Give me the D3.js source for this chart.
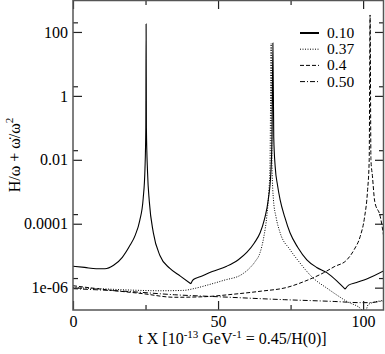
<!DOCTYPE html>
<html>
<head>
<meta charset="utf-8">
<script src="https://cdn.jsdelivr.net/npm/d3@7"></script>
<style>
  body { margin: 0; background: #fff; }
  text { font-family: "Liberation Serif", "DejaVu Serif", serif; }
</style>
</head>
<body>
<div id="chart"></div>
<script>
// series: [t, value]
const series010 = [[0, 4.7e-6], [4, 4.3e-6], [8, 3.9e-6], [11, 3.9e-6], [14, 5.0e-6], [17, 8.9e-6],
    [19.5, 2.0e-5], [21.5, 4.5e-5], [23, 1.26e-4], [24.2, 6.3e-4], [24.8, 5.0e-3], [25.1, 0.1],
    [25.2, 178], [25.3, 0.1], [25.7, 4.0e-3], [26.3, 5.0e-4], [27.7, 5.2e-5], [30, 1.0e-5],
    [33.4, 4.0e-6], [37, 2.3e-6], [40.6, 1.33e-6], [41.5, 1.8e-6], [43.8, 2.2e-6], [48, 3.2e-6],
    [53, 4.7e-6], [57, 7.5e-6], [59.9, 1.26e-5], [62.5, 2.5e-5], [64.5, 5.2e-5], [66, 1.4e-4],
    [67.3, 5.6e-4], [68.2, 4.0e-3], [68.6, 0.05], [68.9, 45], [69.2, 0.05], [69.7, 6.0e-3],
    [70.5, 1.6e-3], [71.4, 5.6e-4], [73, 1.6e-4], [74.8, 5.2e-5], [77.5, 1.8e-5], [80.6, 7.4e-6],
    [84, 4.3e-6], [87.5, 2.95e-6], [91, 1.6e-6], [93.8, 9.0e-7], [95, 1.2e-6], [97.8, 1.45e-6],
    [102, 2.0e-6], [107.2, 3.4e-6]];
const series037 = [[0, 1.0e-6], [10, 9.2e-7], [20, 8.4e-7], [30, 8.0e-7], [38, 8.2e-7], [42, 9.5e-7],
    [46.7, 1.23e-6], [52, 1.7e-6], [58.2, 2.6e-6], [61, 4.2e-6], [62.8, 6.6e-6], [64.5, 1.26e-5],
    [65.8, 4.0e-5], [66.8, 1.7e-4], [67.5, 1.0e-3], [67.9, 6.0e-3], [68.3, 45], [68.6, 6.0e-3],
    [69.1, 5.6e-4], [70, 1.6e-4], [71.4, 5.2e-5], [74.8, 1.55e-5], [78, 6.3e-6], [82.3, 2.2e-6],
    [88, 9.0e-7], [94.4, 3.7e-7], [99.6, 2.0e-7], [100.3, 1.2e-7], [101.8, 3.0e-7], [107.2, 4.0e-7]];
const series04 = [[0, 1.15e-6], [12, 8.5e-7], [24, 6.5e-7], [35, 5.0e-7], [45, 5.2e-7], [55, 6.2e-7],
    [65, 7.8e-7], [73.4, 1.0e-6], [80, 1.6e-6], [86.3, 2.9e-6], [90, 4.5e-6], [94.4, 7.4e-6],
    [97, 1.6e-5], [99, 4.0e-5], [100.5, 1.6e-4], [101.5, 1.0e-3], [102.1, 1.0e-2], [102.4, 340],
    [102.7, 1.0e-2], [103.2, 3.2e-3], [104, 5.0e-4], [105.9, 1.7e-4], [107.2, 3.5e-5]];
const series050 = [[0, 9.3e-7], [20, 7.5e-7], [35, 6.0e-7], [50, 5.2e-7], [73, 4.2e-7], [90, 3.7e-7],
    [99, 3.4e-7], [101.8, 3.4e-7], [107.2, 3.9e-7]];

// sharp minima (cusps) of the 0.10 curve
const cusps010 = [40.6, 93.8];

const legendLabels = ["0.10", "0.37", "0.4", "0.50"];
const xMajor = [0, 50, 100];
const xMinor = [25, 75];
const yMajor = [100, 1, 0.01, 0.0001, 1e-6];
const yMinor = [200, 2, 0.02, 0.0002, 2e-6];
const yLabels = ["100", "1", "0.01", "0.0001", "1e-06"];

const margin = { top: 0, right: 1, bottom: 44, left: 73 };
const width = 385 - margin.left - margin.right;
const height = 354 - margin.top - margin.bottom;

const svg = d3.select("#chart")
    .append("svg")
    .attr("width", 385)
    .attr("height", 354)
    .append("g")
    .attr("transform", `translate(${margin.left},${margin.top})`);

const x = d3.scaleLinear().domain([0, 107.2]).range([0, width]);
const y = d3.scaleLog().domain([2e-7, 1000]).range([height, 0]);

svg.append("clipPath").attr("id", "clip")
    .append("rect").attr("width", width).attr("height", height);

const line = d3.line()
    .x(d => x(d[0]))
    .y(d => y(d[1]))
    .curve(d3.curveMonotoneX);

// split a series at its cusps so the minima stay sharp
function pieces(data, breaks) {
    const out = [];
    let cur = [];
    data.forEach(d => {
        cur.push(d);
        if (breaks.includes(d[0])) {
            out.push(cur);
            cur = [d];
        }
    });
    out.push(cur);
    return out;
}

const styles = [
    { data: series010, breaks: cusps010, dash: null, w: 1.1 },
    { data: series037, breaks: [], dash: "1,1.5", w: 1 },
    { data: series04, breaks: [], dash: "4,2", w: 1 },
    { data: series050, breaks: [], dash: "5,2,1,2", w: 1 }
];

styles.forEach(s => {
    svg.append("path")
        .attr("clip-path", "url(#clip)")
        .attr("fill", "none")
        .attr("stroke", "#000")
        .attr("stroke-width", s.w)
        .attr("stroke-dasharray", s.dash)
        .attr("d", pieces(s.data, s.breaks).map(p => line(p)).join(""));
});

// axes, ticks pointing inward
const yFmt = d => yLabels[yMajor.indexOf(d)];
function styleAxis(g) {
    g.select(".domain").remove();
    g.selectAll(".tick line").attr("stroke", "#222").attr("stroke-width", 1.2);
    g.selectAll("text").style("font-size", "16px").attr("fill", "#000");
}

svg.append("g").call(d3.axisLeft(y).tickValues(yMajor).tickFormat(yFmt).tickSize(-9).tickPadding(5)).call(styleAxis);
svg.append("g").call(d3.axisLeft(y).tickValues(yMinor).tickFormat("").tickSize(-5)).call(styleAxis);
svg.append("g").attr("transform", `translate(${width},0)`)
    .call(d3.axisRight(y).tickValues(yMajor).tickFormat("").tickSize(-9)).call(styleAxis);
svg.append("g").attr("transform", `translate(${width},0)`)
    .call(d3.axisRight(y).tickValues(yMinor).tickFormat("").tickSize(-5)).call(styleAxis);

svg.append("g").attr("transform", `translate(0,${height})`)
    .call(d3.axisBottom(x).tickValues(xMajor).tickSize(-9).tickPadding(6)).call(styleAxis);
svg.append("g").attr("transform", `translate(0,${height})`)
    .call(d3.axisBottom(x).tickValues(xMinor).tickFormat("").tickSize(-5)).call(styleAxis);
svg.append("g")
    .call(d3.axisTop(x).tickValues(xMajor).tickFormat("").tickSize(-9)).call(styleAxis);
svg.append("g")
    .call(d3.axisTop(x).tickValues(xMinor).tickFormat("").tickSize(-5)).call(styleAxis);

// frame
svg.append("rect")
    .attr("x", 0).attr("y", 0.5)
    .attr("width", width - 0.5).attr("height", height - 0.5)
    .attr("fill", "none")
    .attr("stroke", "#555")
    .attr("stroke-width", 1.5);

// legend
const legend = svg.append("g").attr("transform", `translate(${300 - margin.left},0)`);
legendLabels.forEach((lab, i) => {
    const ly = 33 + i * 16.2;
    legend.append("line")
        .attr("x1", 0).attr("x2", 19)
        .attr("y1", ly).attr("y2", ly)
        .attr("stroke", "#000")
        .attr("stroke-width", i === 0 ? 2 : 1)
        .attr("stroke-dasharray", styles[i].dash);
    legend.append("text")
        .attr("x", 27).attr("y", ly + 5)
        .style("font-size", "15.5px")
        .text(lab);
});

// axis titles
const xt = svg.append("text")
    .attr("x", width / 2 + 4).attr("y", 344)
    .attr("text-anchor", "middle")
    .style("font-size", "16px");
xt.append("tspan").text("t X [10");
xt.append("tspan").attr("dy", -6).style("font-size", "11px").text("-13");
xt.append("tspan").attr("dy", 6).text(" GeV");
xt.append("tspan").attr("dy", -6).style("font-size", "11px").text("-1");
xt.append("tspan").attr("dy", 6).text(" = 0.45/H(0)]");

const yt = svg.append("text")
    .attr("transform", `translate(${19.5 - margin.left},155) rotate(-90)`)
    .attr("text-anchor", "middle")
    .style("font-size", "16px");
yt.append("tspan").text("H/\u03c9 + \u03c9\u0307/\u03c9");
yt.append("tspan").attr("dy", -7).style("font-size", "11px").text("2");
</script>
</body>
</html>
